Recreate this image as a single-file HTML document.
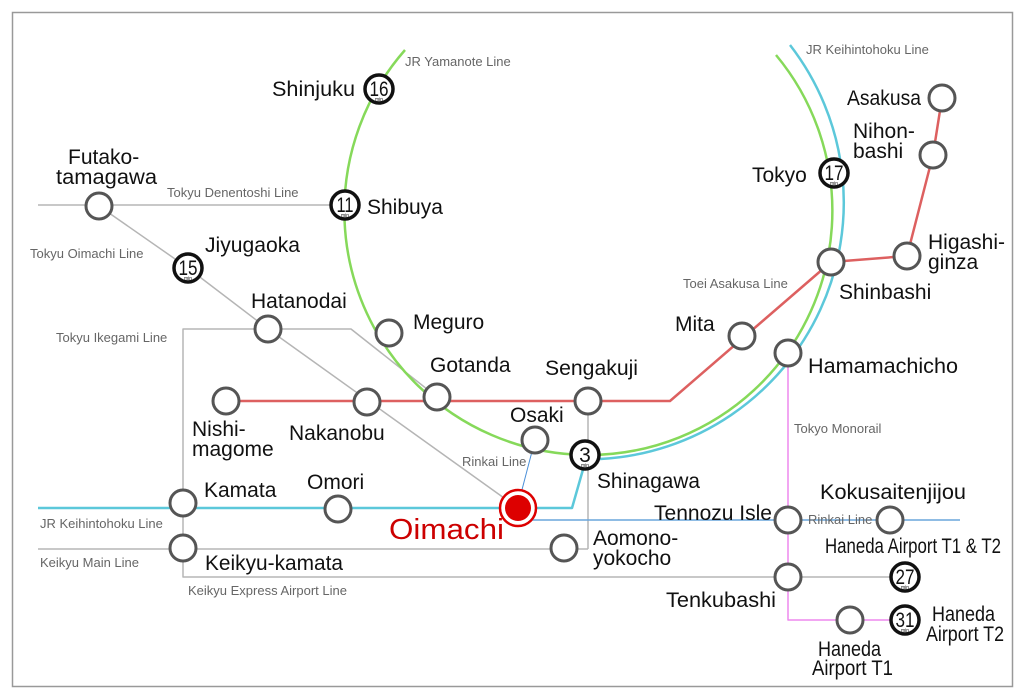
<!DOCTYPE html>
<html><head><meta charset="utf-8"><style>
html,body{margin:0;padding:0;background:#fff;}
svg{display:block;}
.st{font-family:"Liberation Sans",sans-serif;font-size:21px;fill:#111;}
.ln{font-family:"Liberation Sans",sans-serif;font-size:13px;fill:#666;}
.num{font-family:"Liberation Sans",sans-serif;font-size:21px;fill:#111;}
.min{font-family:"Liberation Sans",sans-serif;font-size:5px;fill:#111;}
</style></head><body>
<svg width="1024" height="697" viewBox="0 0 1024 697" xmlns="http://www.w3.org/2000/svg">
<rect x="12.5" y="12.5" width="1000" height="674" fill="#fff" stroke="#999" stroke-width="1.5"/>
<g fill="none" stroke-linejoin="round">
<g stroke="#b5b5b5" stroke-width="1.5">
<line x1="38" y1="205" x2="345" y2="205"/>
<polyline points="99,206 188,268 268,329 518,508"/>
<polyline points="437,397 351,329 183,329 183,577 890,577"/>
<line x1="38" y1="549" x2="588" y2="549"/>
<line x1="588" y1="401" x2="588" y2="549"/>
</g>
<path d="M405,50 A244,244 0 1 0 776,55" stroke="#86d95a" stroke-width="2.5"/>
<path d="M790,45 A257,257 0 0 1 600,459" stroke="#5cc8da" stroke-width="2.5"/>
<polyline points="38,508 572,508 584,466" stroke="#5cc8da" stroke-width="2.5"/>
<line x1="518" y1="520" x2="960" y2="520" stroke="#6aa6dc" stroke-width="1.5"/>
<line x1="518" y1="505" x2="535" y2="440" stroke="#4a8fd8" stroke-width="1"/>
<polyline points="226,401 670,401 831,262 907,256 933,155 942,98" stroke="#dd6060" stroke-width="2.5"/>
<polyline points="788,353 788,620 905,620" stroke="#ee88ee" stroke-width="1.5"/>
</g>
<g fill="#fff" stroke="#555" stroke-width="3">
<circle cx="99" cy="206" r="13"/>
<circle cx="268" cy="329" r="13"/>
<circle cx="389" cy="333" r="13"/>
<circle cx="437" cy="397" r="13"/>
<circle cx="226" cy="401" r="13"/>
<circle cx="367" cy="402" r="13"/>
<circle cx="588" cy="401" r="13"/>
<circle cx="535" cy="440" r="13"/>
<circle cx="183" cy="503" r="13"/>
<circle cx="183" cy="548" r="13"/>
<circle cx="338" cy="509" r="13"/>
<circle cx="564" cy="548" r="13"/>
<circle cx="742" cy="336" r="13"/>
<circle cx="831" cy="262" r="13"/>
<circle cx="907" cy="256" r="13"/>
<circle cx="933" cy="155" r="13"/>
<circle cx="942" cy="98" r="13"/>
<circle cx="788" cy="353" r="13"/>
<circle cx="788" cy="520" r="13"/>
<circle cx="890" cy="520" r="13"/>
<circle cx="788" cy="577" r="13"/>
<circle cx="850" cy="620" r="13"/>
</g>
<g fill="#fff" stroke="#111" stroke-width="3.5">
<circle cx="379" cy="89" r="14"/>
<circle cx="345" cy="205" r="14"/>
<circle cx="188" cy="268" r="14"/>
<circle cx="585" cy="455" r="14"/>
<circle cx="834" cy="173" r="14"/>
<circle cx="905" cy="577" r="14"/>
<circle cx="905" cy="620" r="14"/>
</g>
<g text-anchor="middle">
<text class="num" x="379" y="96" textLength="19" lengthAdjust="spacingAndGlyphs">16</text><text class="min" x="379" y="101">min</text>
<text class="num" x="345" y="212" textLength="17" lengthAdjust="spacingAndGlyphs">11</text><text class="min" x="345" y="217">min</text>
<text class="num" x="188" y="275" textLength="19" lengthAdjust="spacingAndGlyphs">15</text><text class="min" x="188" y="280">min</text>
<text class="num" x="585" y="462">3</text><text class="min" x="585" y="467">min</text>
<text class="num" x="834" y="180" textLength="19" lengthAdjust="spacingAndGlyphs">17</text><text class="min" x="834" y="185">min</text>
<text class="num" x="905" y="584" textLength="19" lengthAdjust="spacingAndGlyphs">27</text><text class="min" x="905" y="589">min</text>
<text class="num" x="905" y="627" textLength="19" lengthAdjust="spacingAndGlyphs">31</text><text class="min" x="905" y="632">min</text>
</g>
<circle cx="518" cy="508" r="18" fill="#fff" stroke="#dd0000" stroke-width="2.5"/>
<circle cx="518" cy="508" r="13" fill="#dd0000"/>
<text x="389" y="539" font-family="Liberation Sans,sans-serif" font-size="29" fill="#cc0000" textLength="115" lengthAdjust="spacingAndGlyphs">Oimachi</text>
<g class="st">
<text x="272" y="96" textLength="83" lengthAdjust="spacingAndGlyphs">Shinjuku</text>
<text x="367" y="214">Shibuya</text>
<text x="68" y="164">Futako-</text><text x="56" y="184" textLength="101" lengthAdjust="spacingAndGlyphs">tamagawa</text>
<text x="205" y="252" textLength="95" lengthAdjust="spacingAndGlyphs">Jiyugaoka</text>
<text x="251" y="308">Hatanodai</text>
<text x="413" y="329">Meguro</text>
<text x="430" y="372">Gotanda</text>
<text x="545" y="375" textLength="93" lengthAdjust="spacingAndGlyphs">Sengakuji</text>
<text x="510" y="422">Osaki</text>
<text x="192" y="436">Nishi-</text><text x="192" y="456">magome</text>
<text x="289" y="440">Nakanobu</text>
<text x="597" y="488" textLength="103" lengthAdjust="spacingAndGlyphs">Shinagawa</text>
<text x="204" y="497">Kamata</text>
<text x="307" y="489">Omori</text>
<text x="205" y="570" textLength="138" lengthAdjust="spacingAndGlyphs">Keikyu-kamata</text>
<text x="593" y="545">Aomono-</text><text x="593" y="565">yokocho</text>
<text x="847" y="105" textLength="74" lengthAdjust="spacingAndGlyphs">Asakusa</text>
<text x="853" y="138">Nihon-</text><text x="853" y="158">bashi</text>
<text x="752" y="182">Tokyo</text>
<text x="928" y="249" textLength="77" lengthAdjust="spacingAndGlyphs">Higashi-</text><text x="928" y="269">ginza</text>
<text x="839" y="299">Shinbashi</text>
<text x="675" y="331">Mita</text>
<text x="808" y="373" textLength="150" lengthAdjust="spacingAndGlyphs">Hamamachicho</text>
<text x="820" y="499" textLength="146" lengthAdjust="spacingAndGlyphs">Kokusaitenjijou</text>
<text x="654" y="520" textLength="118" lengthAdjust="spacingAndGlyphs">Tennozu Isle</text>
<text x="825" y="553" textLength="176" lengthAdjust="spacingAndGlyphs">Haneda Airport T1 &amp; T2</text>
<text x="666" y="607" textLength="110" lengthAdjust="spacingAndGlyphs">Tenkubashi</text>
<text x="818" y="656" textLength="63" lengthAdjust="spacingAndGlyphs">Haneda</text><text x="812" y="675" textLength="81" lengthAdjust="spacingAndGlyphs">Airport T1</text>
<text x="932" y="621" textLength="63" lengthAdjust="spacingAndGlyphs">Haneda</text><text x="926" y="641" textLength="78" lengthAdjust="spacingAndGlyphs">Airport T2</text>
</g>
<g class="ln">
<text x="405" y="66">JR Yamanote Line</text>
<text x="806" y="54">JR Keihintohoku Line</text>
<text x="167" y="197">Tokyu Denentoshi Line</text>
<text x="30" y="258">Tokyu Oimachi Line</text>
<text x="56" y="342">Tokyu Ikegami Line</text>
<text x="683" y="288">Toei Asakusa Line</text>
<text x="462" y="466">Rinkai Line</text>
<text x="794" y="433">Tokyo Monorail</text>
<text x="808" y="524">Rinkai Line</text>
<text x="40" y="528">JR Keihintohoku Line</text>
<text x="40" y="567">Keikyu Main Line</text>
<text x="188" y="595">Keikyu Express Airport Line</text>
</g>
</svg>
</body></html>
